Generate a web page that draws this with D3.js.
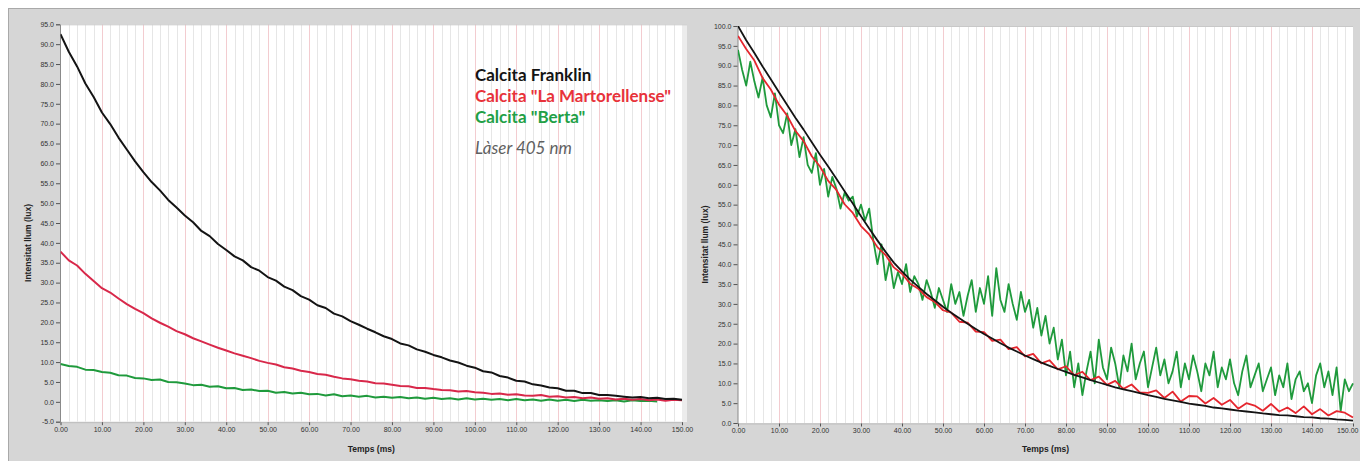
<!DOCTYPE html>
<html><head><meta charset="utf-8">
<script src="https://cdn.jsdelivr.net/npm/d3@7"></script>
<style>body{margin:0;background:#fff}svg{display:block}</style>
</head><body><svg id="c" width="1360" height="461"></svg>
<script>
// ---------- data ----------
const sampleStepMs = 2;      // sampling step of the 2 ms series
const greenStepMs = 1;       // sampling step of the right-hand green series

const xTicks = [0,10,20,30,40,50,60,70,80,90,100,110,120,130,140,150];
const xTickLabels = ["0.00","10.00","20.00","30.00","40.00","50.00","60.00","70.00","80.00","90.00","100.00","110.00","120.00","130.00","140.00","150.00"];
const leftYTicks = [-5,0,5,10,15,20,25,30,35,40,45,50,55,60,65,70,75,80,85,90,95];
const leftYTickLabels = ["-5.0","0.0","5.0","10.0","15.0","20.0","25.0","30.0","35.0","40.0","45.0","50.0","55.0","60.0","65.0","70.0","75.0","80.0","85.0","90.0","95.0"];
const rightYTicks = [0,5,10,15,20,25,30,35,40,45,50,55,60,65,70,75,80,85,90,95,100];
const rightYTickLabels = ["0.0","5.0","10.0","15.0","20.0","25.0","30.0","35.0","40.0","45.0","50.0","55.0","60.0","65.0","70.0","75.0","80.0","85.0","90.0","95.0","100.0"];

const legendLabels = ["Calcita Franklin", "Calcita \"La Martorellense\"", "Calcita \"Berta\""];
const laserLabel = "Làser 405 nm";
const yTitle = "Intensitat llum (lux)";
const xTitle = "Temps (ms)";

// Left panel (absolute intensity), one value every 2 ms
const leftFranklin = [92.5,88.1,84.4,80.1,76.7,72.8,69.9,66.5,63.5,60.5,57.8,55.3,53.2,50.8,48.9,46.9,45.2,43.0,41.7,39.7,38.2,36.6,35.6,33.9,33.0,31.4,30.5,29.0,28.1,26.6,25.7,24.3,23.6,22.2,21.5,20.3,19.4,18.4,17.5,16.5,15.8,14.7,14.2,13.2,12.6,11.8,11.2,10.4,9.9,9.1,8.6,7.7,7.4,6.5,6.1,5.3,5.1,4.4,4.1,3.6,3.4,2.8,2.8,2.2,2.2,1.7,1.7,1.5,1.3,1.1,1.2,0.9,1.0,0.7,0.8,0.5];
const leftMartorellense = [37.8,35.6,34.3,32.2,30.4,28.6,27.5,26.0,24.6,23.4,22.3,21.0,19.9,18.9,17.8,17.0,16.0,15.2,14.4,13.6,12.9,12.2,11.6,11.0,10.3,9.8,9.4,8.7,8.4,7.8,7.5,7.0,6.8,6.3,5.9,5.7,5.3,5.1,4.7,4.6,4.3,4.0,3.9,3.5,3.5,3.2,3.0,2.9,2.6,2.7,2.4,2.3,2.0,2.1,1.8,1.9,1.6,1.5,1.7,1.3,1.4,1.1,1.2,0.9,1.1,0.8,0.9,0.6,0.8,0.5,0.7,0.4,0.6,0.3,0.5,0.4];
const leftBerta = [9.5,9.0,8.8,8.1,8.0,7.5,7.3,6.7,6.6,6.0,5.9,5.5,5.6,5.0,4.9,4.6,4.2,4.3,3.8,3.9,3.4,3.5,3.0,3.1,2.7,2.8,2.3,2.5,2.1,2.3,1.9,2.0,1.6,1.9,1.4,1.6,1.3,1.5,1.1,1.3,1.0,1.2,0.9,1.1,0.8,1.0,0.7,0.9,0.6,0.9,0.6,0.8,0.5,0.7,0.4,0.7,0.4,0.6,0.3,0.6,0.3,0.5,0.2,0.5,0.3,0.4,0.2,0.4,0.1,0.4,0.2,0.3,0.1];

// Right panel (normalised to 100), black and red every 2 ms, green every 1 ms
const rightFranklin = [100,96.4,93.2,89.8,86.6,83.3,80.1,76.9,73.9,70.7,67.6,64.6,61.5,58.4,55.3,52.1,49.0,46.0,43.1,40.4,38.2,36.1,34.3,32.5,30.9,29.3,27.8,26.4,25.0,23.7,22.4,21.3,20.1,19.0,18.0,17.0,16.1,15.2,14.4,13.6,12.9,12.1,11.5,10.8,10.2,9.6,9.0,8.5,8.0,7.5,7.0,6.6,6.1,5.7,5.3,4.9,4.6,4.3,3.9,3.7,3.4,3.1,2.9,2.7,2.4,2.2,2.0,1.9,1.7,1.5,1.4,1.2,1.1,0.9,0.8,0.6];
const rightMartorellense = [97.5,94.2,91.3,86.9,84.0,80.2,77.4,73.6,71.0,67.2,64.6,61.0,58.7,55.1,52.9,49.6,47.5,44.3,42.3,39.2,37.6,35.1,33.8,31.7,30.5,28.4,27.8,25.5,25.3,23.0,22.9,20.7,21.0,18.6,19.1,16.8,17.4,15.0,15.8,13.5,14.3,12.0,12.9,10.8,11.7,9.6,10.6,8.6,9.7,7.7,7.6,8.2,6.3,7.9,5.4,6.8,6.7,4.9,6.3,4.6,5.8,3.6,5.0,4.4,3.1,4.8,2.9,3.9,2.5,4.2,2.2,3.5,1.9,3.0,2.6,1.4];
const rightBerta = [94,89,85,91,86,82,87,80,77,83,75,73,78,70,74,67,72,65,63,68,60,64,57,62,59,54,58,56,57,52,55,51,54,46,40,45,36,41,34,38,35,40,33,37,35,31,36,33,29,34,31,28,35,30,33,27,32,36,28,34,30,37,27,39,31,28,35,30,26,33,28,31,24,29,22,27,20,24,16,21,12,18,9,15,7,13,18,10,21,14,11,19,15,9,17,13,20,11,15,18,9,14,19,12,16,10,13,18,9,15,11,17,13,8,15,12,18,9,14,11,16,10,7,13,17,9,12,15,8,11,14,7,12,9,15,6,11,13,8,10,5,12,15,9,13,7,14,3,11,8,10];

// ---------- drawing ----------
const svg = d3.select("#c");
const FONT = "'Liberation Sans', Arial, sans-serif";

svg.append("rect").attr("x",0).attr("y",0).attr("width",1360).attr("height",461).attr("fill","#ffffff");
svg.append("rect").attr("x",8.5).attr("y",8.5).attr("width",1360).attr("height",460)
  .attr("fill","#d6d6d6").attr("stroke","#a9a9a9");

const colors = {black:"#141414", red:"#d8284a", redR:"#e5262e", green:"#1f9a3c"};

function panel(cfg){
  const x = d3.scaleLinear().domain([0,150]).range([cfg.x0, cfg.x1]);
  const y = d3.scaleLinear().domain(cfg.yDomain).range([cfg.yBottom, cfg.yTop]);
  const g = svg.append("g");
  const id = "clip" + cfg.name;
  svg.append("clipPath").attr("id", id).append("rect")
    .attr("x", cfg.x0).attr("y", cfg.yTop).attr("width", cfg.x1 - cfg.x0 + 1).attr("height", cfg.yBottom - cfg.yTop);

  g.append("rect").attr("x", cfg.x0).attr("y", cfg.yTop)
    .attr("width", cfg.x1 - cfg.x0 + cfg.rightPad).attr("height", cfg.yBottom - cfg.yTop)
    .attr("fill", "#ffffff");
  if (cfg.rightPad > 0) {
    g.append("rect").attr("x", cfg.x1).attr("y", cfg.yTop).attr("width", cfg.rightPad)
      .attr("height", cfg.yBottom - cfg.yTop).attr("fill", "#ececec");
  }
  const minor = d3.range(0, 151, 2).filter(t => t % 10 !== 0);
  g.append("g").selectAll("line").data(minor).join("line")
    .attr("x1", d => Math.round(x(d)) + 0.5).attr("x2", d => Math.round(x(d)) + 0.5)
    .attr("y1", cfg.yTop).attr("y2", cfg.yBottom)
    .attr("stroke", "#e6e6e6").attr("stroke-width", 1);
  g.append("g").selectAll("line").data(xTicks.slice(1, -1)).join("line")
    .attr("x1", d => Math.round(x(d)) + 0.5).attr("x2", d => Math.round(x(d)) + 0.5)
    .attr("y1", cfg.yTop).attr("y2", cfg.yBottom)
    .attr("stroke", "#f3ccd0").attr("stroke-width", 1);

  g.append("line").attr("x1", cfg.x0).attr("x2", cfg.x1 + cfg.rightPad)
    .attr("y1", cfg.yTop + 0.5).attr("y2", cfg.yTop + 0.5).attr("stroke", "#c8c8c8");

  const yAxis = d3.axisLeft(y).tickValues(cfg.yTicks).tickFormat((d,i) => cfg.yLabels[i])
    .tickSize(4).tickPadding(2);
  const ya = g.append("g").attr("transform", `translate(${cfg.x0 - 0.5},0)`).call(yAxis);
  ya.select(".domain").attr("stroke", "#8a8a8a");
  ya.selectAll(".tick line").attr("stroke", "#555");
  ya.selectAll("text").attr("font-family", FONT).attr("font-size", 7).attr("fill", "#333");

  const xAxis = d3.axisBottom(x).tickValues(xTicks).tickFormat((d,i) => xTickLabels[i])
    .tickSize(3).tickPadding(2);
  const xa = g.append("g").attr("transform", `translate(0,${cfg.yBottom + 0.5})`).call(xAxis);
  xa.select(".domain").attr("stroke", "#bdbdbd");
  xa.selectAll(".tick line").attr("stroke", "#555");
  xa.selectAll("text").attr("font-family", FONT).attr("font-size", 7).attr("fill", "#333");
  if (cfg.lastLabelEnd) {
    xa.selectAll(".tick text").filter((d,i) => i === xTicks.length - 1)
      .attr("text-anchor", "end").attr("dx", (1358 - cfg.x1) + "px");
  }

  g.append("text").attr("transform", `translate(${cfg.yTitleX},${(cfg.yTop + cfg.yBottom)/2 + 20}) rotate(-90)`)
    .attr("text-anchor", "middle").attr("font-family", FONT).attr("font-weight", "bold")
    .attr("font-size", 8.5).attr("fill", "#222").text(yTitle);
  g.append("text").attr("x", (cfg.x0 + cfg.x1)/2).attr("y", 452)
    .attr("text-anchor", "middle").attr("font-family", FONT).attr("font-weight", "bold")
    .attr("font-size", 8.5).attr("fill", "#222").text(xTitle);

  const lines = g.append("g").attr("clip-path", `url(#${id})`);
  cfg.series.forEach(s => {
    const line = d3.line().x((d,i) => x(i * s.step)).y(d => y(d));
    lines.append("path").datum(s.values).attr("d", line)
      .attr("fill", "none").attr("stroke", s.color).attr("stroke-width", s.width)
      .attr("stroke-linejoin", "round");
  });
  return {x, y, g};
}

const left = panel({
  name: "L", x0: 60.5, x1: 682, rightPad: 5, yTop: 24.3, yBottom: 421.7, yDomain: [-5, 95],
  yTicks: leftYTicks, yLabels: leftYTickLabels, yTitleX: 31,
  series: [
    {values: leftBerta, step: sampleStepMs, color: colors.green, width: 2},
    {values: leftMartorellense, step: sampleStepMs, color: colors.red, width: 2},
    {values: leftFranklin, step: sampleStepMs, color: colors.black, width: 2}
  ]
});

const right = panel({
  name: "R", x0: 738, x1: 1353, rightPad: 0, yTop: 26, yBottom: 423, yDomain: [0, 100],
  yTicks: rightYTicks, yLabels: rightYTickLabels, yTitleX: 708, lastLabelEnd: true,
  series: [
    {values: rightBerta, step: greenStepMs, color: colors.green, width: 1.8},
    {values: rightMartorellense, step: sampleStepMs, color: colors.redR, width: 1.8},
    {values: rightFranklin, step: sampleStepMs, color: colors.black, width: 1.8}
  ]
});

const legendColors = [colors.black, "#e8323a", "#22a046"];
const LFONT = "Lato, 'Open Sans', sans-serif";
left.g.append("g").selectAll("text").data(legendLabels).join("text")
  .attr("x", 475).attr("y", (d,i) => 80.5 + i * 21)
  .attr("font-family", LFONT).attr("font-weight", "bold").attr("font-size", 17)
  .attr("fill", (d,i) => legendColors[i]).text(d => d);
left.g.append("text").attr("x", 475).attr("y", 154)
  .attr("font-family", LFONT).attr("font-style", "italic").attr("font-size", 17)
  .attr("fill", "#5f5f5f").text(laserLabel);
</script></body></html>
